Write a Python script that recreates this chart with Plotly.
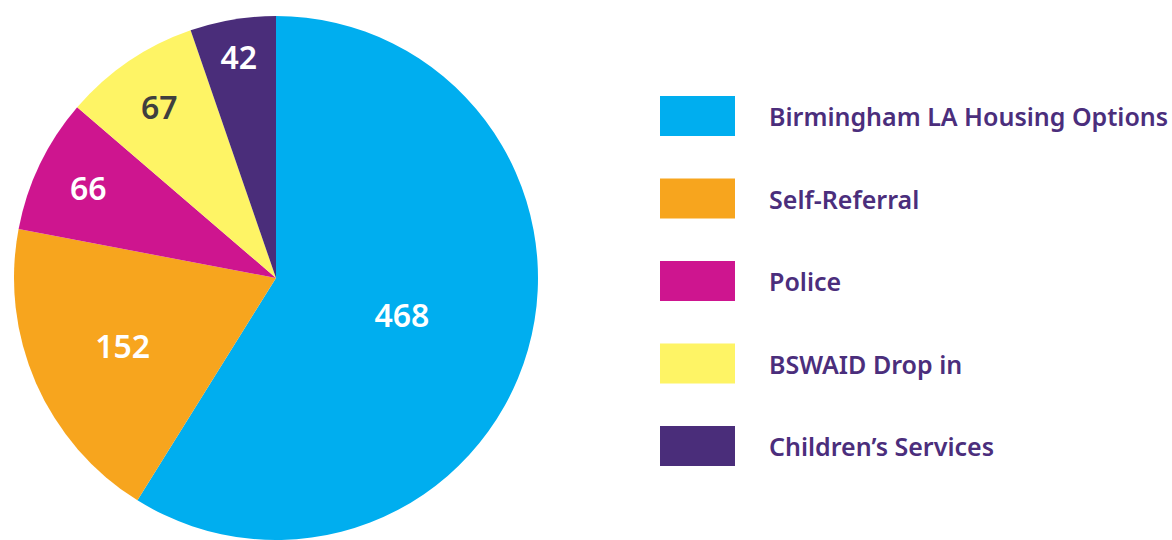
import plotly.graph_objects as go

categories = ["Birmingham LA Housing Options", "Self-Referral", "Police", "BSWAID Drop in", "Children’s Services"]
values = [468, 152, 66, 67, 42]
colors = ["#00AEEF", "#F7A51E", "#CE158F", "#FEF465", "#4A2D7A"]
text_colors = ["#FFFFFF", "#FFFFFF", "#FFFFFF", "#3F3F3F", "#FFFFFF"]

W, H = 1172, 540
cx, top, R = 276, 16, 262

fig = go.Figure()
fig.add_trace(go.Pie(
    labels=categories, values=values, sort=False, direction="clockwise", rotation=0,
    marker=dict(colors=colors, line=dict(width=0)),
    texttemplate="%{value}", textposition="inside", insidetextorientation="horizontal",
    textfont=dict(family="Noto Sans", size=32, color=text_colors, weight=600),
    domain=dict(x=[(cx - R) / W, (cx + R) / W], y=[1 - (top + 2 * R) / H, 1 - top / H]),
    showlegend=False, hoverinfo="label+value",
))

shapes, annotations = [], []
y0, step, bh = 96, 82.5, 40
for i, (lab, col) in enumerate(zip(categories, colors)):
    yt = y0 + i * step
    shapes.append(dict(type="rect", xref="paper", yref="paper",
                       x0=660 / W, x1=735 / W, y0=1 - (yt + bh) / H, y1=1 - yt / H,
                       fillcolor=col, line=dict(width=0)))
    annotations.append(dict(xref="paper", yref="paper", x=767 / W, y=1 - (yt + bh / 2) / H,
                            xanchor="left", yanchor="middle", showarrow=False, text=lab,
                            font=dict(family="Noto Sans", size=25, color="#4B2E7C", weight=600)))

fig.update_layout(width=W, height=H, margin=dict(l=0, r=0, t=0, b=0),
                  paper_bgcolor="white", plot_bgcolor="white",
                  shapes=shapes, annotations=annotations)
fig.write_html("out.html")
